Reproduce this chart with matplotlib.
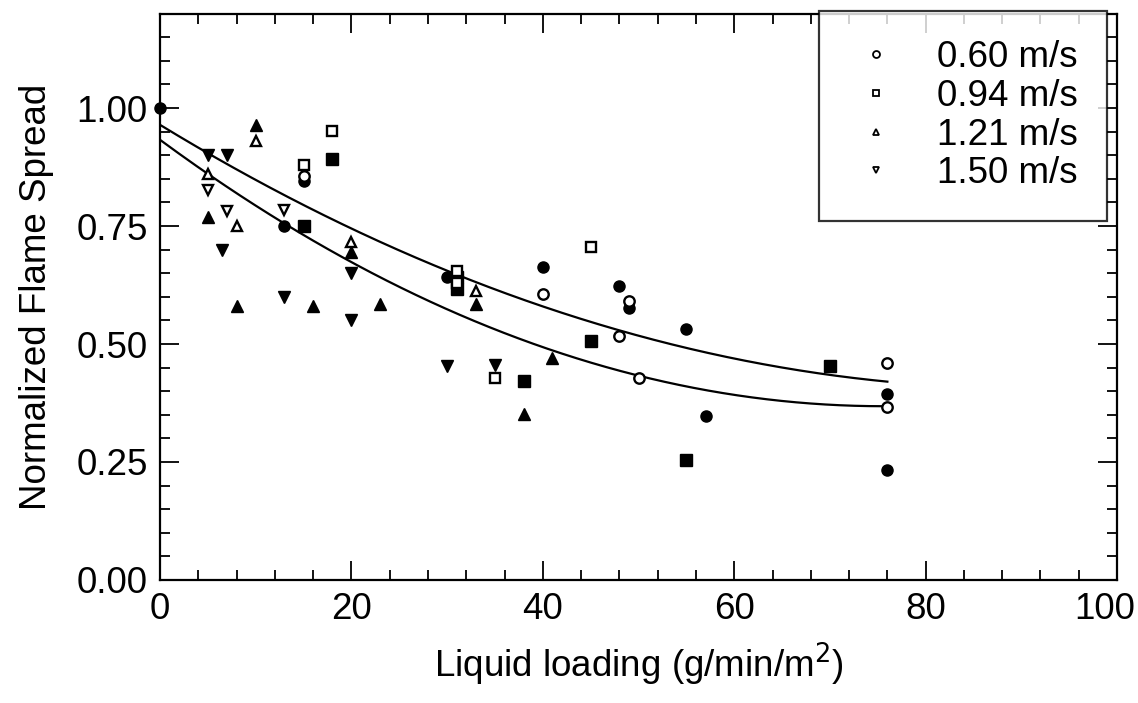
import matplotlib
matplotlib.use('Agg')
import matplotlib.pyplot as plt
from matplotlib.lines import Line2D
from matplotlib.ticker import MultipleLocator
import numpy as np

plt.rcParams['font.family'] = ['Liberation Sans', 'DejaVu Sans']

# open symbols (the legend series)
open_060_x = [15, 40, 48, 49, 50, 76, 76]
open_060_y = [0.855, 0.605, 0.517, 0.591, 0.427, 0.460, 0.367]
open_094_x = [18, 15, 31, 31, 35, 45]
open_094_y = [0.951, 0.879, 0.655, 0.629, 0.429, 0.706]
open_121_x = [10, 5, 8, 20, 33]
open_121_y = [0.930, 0.860, 0.751, 0.717, 0.613]
open_150_x = [5, 7, 13]
open_150_y = [0.826, 0.782, 0.784]

# filled symbols
fill_060_x = [0, 15, 13, 30, 40, 48, 49, 55, 57, 76, 76]
fill_060_y = [1.000, 0.845, 0.750, 0.643, 0.664, 0.623, 0.576, 0.531, 0.347, 0.394, 0.232]
fill_094_x = [18, 15, 31, 31, 38, 45, 55, 70]
fill_094_y = [0.892, 0.751, 0.643, 0.617, 0.422, 0.506, 0.254, 0.454]
fill_121_x = [10, 5, 8, 16, 20, 23, 33, 38, 41]
fill_121_y = [0.965, 0.770, 0.580, 0.580, 0.695, 0.584, 0.584, 0.351, 0.471]
fill_150_x = [5, 7, 6.5, 13, 20, 20, 30, 35]
fill_150_y = [0.900, 0.900, 0.699, 0.600, 0.650, 0.551, 0.453, 0.455]

# points
curve_x = [0, 20, 40, 61, 76]
upper_y = [0.964, 0.746, 0.578, 0.466, 0.420]
lower_y = [0.932, 0.675, 0.493, 0.388, 0.369]

x_ticks = [0, 20, 40, 60, 80, 100]
x_ticklabels = ['0', '20', '40', '60', '80', '100']
y_ticks = [0, 0.25, 0.5, 0.75, 1.0]
y_ticklabels = ['0.00', '0.25', '0.50', '0.75', '1.00']

labels = ['0.60 m/s', '0.94 m/s', '1.21 m/s', '1.50 m/s']
markers = ['o', 's', '^', 'v']

opens = [(open_060_x, open_060_y), (open_094_x, open_094_y),
         (open_121_x, open_121_y), (open_150_x, open_150_y)]
fills = [(fill_060_x, fill_060_y), (fill_094_x, fill_094_y),
         (fill_121_x, fill_121_y), (fill_150_x, fill_150_y)]

fs = 26.5

fig = plt.figure(figsize=(11.38, 7.03), dpi=100)
ax = fig.add_axes([0.1406, 0.1750, 0.8410, 0.8056])

for m, (x, y) in zip(markers, fills):
    ax.plot(x, y, linestyle='none', marker=m, ms=8, color='black',
            clip_on=False, zorder=3)
for m, (x, y) in zip(markers, opens):
    ax.plot(x, y, linestyle='none', marker=m, ms=7.5, mfc='white',
            mec='black', mew=1.7, clip_on=False, zorder=4)

# quadratic regressions
xx = np.linspace(0, 76, 200)
for cy in (upper_y, lower_y):
    coeff = np.polyfit(curve_x, cy, 2)
    ax.plot(xx, np.polyval(coeff, xx), color='black', lw=1.6, zorder=2)

ax.set_xlim(0, 100)
ax.set_ylim(0, 1.2)
ax.set_xticks(x_ticks)
# last label is drawn separately, nudged left so it stays in the picture
ax.set_xticklabels(x_ticklabels[:-1] + [''])
ax.xaxis.set_minor_locator(MultipleLocator(4))
ax.set_yticks(y_ticks)
ax.set_yticklabels(y_ticklabels)
ax.yaxis.set_minor_locator(MultipleLocator(0.05))
ax.tick_params(which='both', direction='in', top=True, right=True,
               labelsize=fs, pad=9, width=1.3)
ax.tick_params(which='major', length=14)
ax.tick_params(which='minor', length=7)
for s in ax.spines.values():
    s.set_linewidth(1.6)

ax.annotate(x_ticklabels[-1], xy=(x_ticks[-1], 0),
            xycoords=('data', 'axes fraction'), xytext=(-9, -9),
            textcoords='offset points', ha='center', va='top', fontsize=fs,
            annotation_clip=False)

ax.set_xlabel('Liquid loading (g/min/m$^2$)', fontsize=fs, labelpad=10)
ax.set_ylabel('Normalized Flame Spread', fontsize=fs, labelpad=16)

handles = [Line2D([], [], linestyle='none', marker=m, ms=5, mfc='white',
                  mec='black', mew=1.3) for m in markers]
leg = ax.legend(handles, labels, loc='upper right',
                bbox_to_anchor=(0.9895, 1.005), fontsize=fs,
                frameon=True, fancybox=False, edgecolor='black',
                borderpad=0.8, labelspacing=0.1, handlelength=1.5,
                handletextpad=0.9, borderaxespad=0)
leg.get_frame().set_linewidth(1.6)

fig.savefig('out.png', dpi=100)
